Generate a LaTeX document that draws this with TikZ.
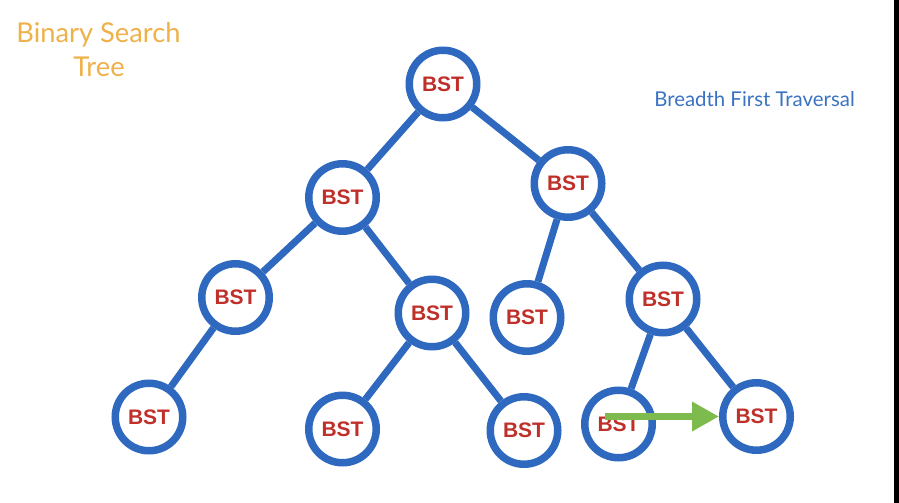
\documentclass[tikz,border=0pt]{standalone}
\usepackage{fontspec}
\setmainfont{Lato}
\newfontfamily\bstfont{Liberation Sans}
\usetikzlibrary{arrows.meta}
\definecolor{treeblue}{HTML}{2F69BF}
\definecolor{textblue}{HTML}{3A73C2}
\definecolor{titleorange}{HTML}{EFB14A}
\definecolor{bstred}{HTML}{C0302A}
\definecolor{arrowgreen}{HTML}{7DBB4F}
\tikzset{
  bstnode/.style={circle, draw=treeblue, line width=7.5pt, fill=white,
    minimum size=67.5pt, inner sep=0pt,
    font=\bstfont\bfseries\fontsize{21}{21}\selectfont, text=bstred},
  treeedge/.style={draw=treeblue, line width=7pt},
  titletext/.style={text=titleorange, font=\fontsize{27.3}{30}\selectfont, anchor=base, inner sep=0pt},
  labeltext/.style={text=textblue, font=\fontsize{20.4}{24}\selectfont, anchor=base, inner sep=0pt},
  travarrow/.style={draw=arrowgreen, line width=7pt, -{Triangle[length=27pt,width=28pt]}}
}
\begin{document}
\begin{tikzpicture}[x=1pt,y=-1pt]
\useasboundingbox (0,0) rectangle (899,503);
\fill[white] (0,0) rectangle (899,503);
\fill[black] (894,0) rectangle (899,503);

\node[titletext] (title1) at (98.5,43) {Binary Search};
\node[titletext] (title2) at (99,77) {Tree};
\node[labeltext] (bft) at (754.5,106) {Breadth First Traversal};

\node[bstnode] (r)  at (443,84) {BST};
\node[bstnode] (a)  at (342.5,197.5) {BST};
\node[bstnode] (b)  at (568,183.5) {BST};
\node[bstnode] (aa) at (235.5,297.5) {BST};
\node[bstnode] (ab) at (432,313) {BST};
\node[bstnode] (ba) at (527,317.5) {BST};
\node[bstnode] (bb) at (663,299) {BST};
\node[bstnode] (aaa) at (149,417) {BST};
\node[bstnode] (aba) at (342.5,429) {BST};
\node[bstnode] (abb) at (524,430.5) {BST};
\node[bstnode] (bba) at (618.5,424) {BST};
\node[bstnode] (bbb) at (756.5,416.5) {BST};

\draw[treeedge] (r) -- (a);
\draw[treeedge] (r) -- (b);
\draw[treeedge] (a) -- (aa);
\draw[treeedge] (a) -- (ab);
\draw[treeedge] (b) -- (ba);
\draw[treeedge] (b) -- (bb);
\draw[treeedge] (aa) -- (aaa);
\draw[treeedge] (ab) -- (aba);
\draw[treeedge] (ab) -- (abb);
\draw[treeedge] (bb) -- (bba);
\draw[treeedge] (bb) -- (bbb);

\coordinate (arrstart) at (605,416.5);
\draw[travarrow] (arrstart) -- (bbb.west);
\end{tikzpicture}
\end{document}
